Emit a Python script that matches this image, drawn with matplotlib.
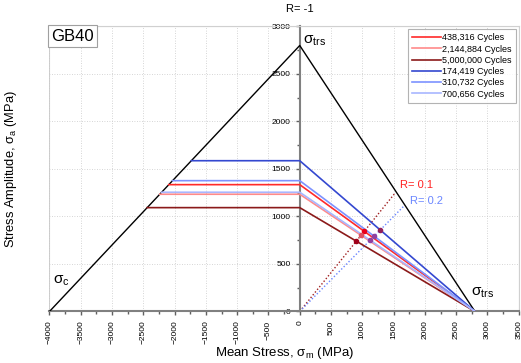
import numpy as np
from matplotlib import pyplot as plt
from matplotlib.patches import Rectangle

plt.rcParams['font.family'] = ['Liberation Sans', 'DejaVu Sans']
plt.rcParams['mathtext.fontset'] = 'custom'
plt.rcParams['mathtext.rm'] = 'Liberation Sans'
plt.rcParams['mathtext.it'] = 'Liberation Sans'

# material limits (MPa)
sigma_trs = 2800
sigma_c = -4000

# fatigue lines: amplitude at zero mean stress
labels = ['438,316 Cycles', '2,144,884 Cycles', '5,000,000 Cycles',
          '174,419 Cycles', '310,732 Cycles', '700,656 Cycles']
amp = [1335, 1234, 1093, 1587, 1377, 1255]
line_R = [0.1, 0.1, 0.1, 0.2, 0.2, 0.2]

# load ratio lines
R_values = [0.1, 0.2]
R_xend = [1520, 1660]

colors = ['#ff2a2a', '#ff8a8a', '#8b1a1a', '#3448d0', '#7d92ff', '#a8b6ff']
mcolors = ['#e8001a', '#e05060', '#a0001a', '#90205a', '#9040a0', '#9040a0']
R_colors = ['#a02020', '#6a86ff']

fig = plt.figure(figsize=(5.21, 3.63), dpi=100)
ax = fig.add_axes([0.095, 0.142, 0.9006, 0.785])

# envelope triangle
ax.plot([sigma_c, 0, sigma_trs], [0, sigma_trs, 0], color='black', lw=1.0, zorder=3)

for a, lab, c in zip(amp, labels, colors):
    x_left = a / sigma_trs * (-sigma_c) + sigma_c
    ax.plot([x_left, 0, sigma_trs], [a, a, 0], color=c, lw=1.2, label=lab, zorder=4)

for R, xe, c in zip(R_values, R_xend, R_colors):
    k = (1 - R) / (1 + R)
    ax.plot([0, xe], [0, k * xe], color=c, lw=1.0, ls=(0, (1, 1.5)), zorder=2)

# intersections of R lines with the fatigue lines
for a, R, mc in zip(amp, line_R, mcolors):
    k = (1 - R) / (1 + R)
    xi = a / (k + a / sigma_trs)
    ax.plot(xi, k * xi, 'o', ms=3, color=mc, zorder=5)

ax.set_xlim(-4000, 3500)
ax.set_ylim(0, 3000)
ax.set_xticks(np.arange(-4000, 3501, 500))
ax.set_yticks(np.arange(0, 3001, 500))
ax.set_xticks(np.arange(-4000, 3501, 250), minor=True)
ax.set_yticks(np.arange(0, 3001, 250), minor=True)
ax.tick_params(axis='x', labelsize=6, labelrotation=90, direction='out', length=3, width=1, color='#606060')
ax.tick_params(axis='y', labelsize=6, direction='out', length=3, width=1, color='#606060')
ax.tick_params(which='minor', length=2, width=1, color='#606060')
ax.grid(True, ls=(0, (1, 2)), color='#c8c8c8', lw=0.6)

ax.spines['left'].set_position(('data', 0))
ax.spines['bottom'].set_position(('data', 0))
for s in ['left', 'bottom']:
    ax.spines[s].set_color('#808080')
    ax.spines[s].set_linewidth(1.5)
for s in ['top', 'right']:
    ax.spines[s].set_color('#d0d0d0')
    ax.spines[s].set_linewidth(0.8)
ax.add_patch(Rectangle((0, 0), 1, 1, transform=ax.transAxes, fill=False,
                       ec='#d0d0d0', lw=0.8, zorder=0))

ax.set_xlabel(r'Mean Stress, $\mathregular{\sigma_m}$ (MPa)', fontsize=9.5)
ax.set_ylabel(r'Stress Amplitude, $\mathregular{\sigma_a}$ (MPa)', fontsize=9.3)
ax.yaxis.set_label_coords(-0.064, 0.5)
ax.xaxis.set_label_coords(0.5, -0.118)

ax.text(0, 1.045, 'R= -1', transform=ax.get_xaxis_transform(), ha='center', va='bottom', fontsize=8)
ax.text(60, 2850, r'$\mathregular{\sigma_{trs}}$', fontsize=11, ha='left', va='center')
ax.text(2740, 200, r'$\mathregular{\sigma_{trs}}$', fontsize=11, ha='left', va='center')
ax.text(-3940, 320, r'$\mathregular{\sigma_c}$', fontsize=11, ha='left', va='center')
ax.text(1600, 1335, 'R= 0.1', color='#ff2020', fontsize=8, ha='left', va='center')
ax.text(1760, 1160, 'R= 0.2', color='#6a86ff', fontsize=8, ha='left', va='center')

ax.text(0.004, 0.992, 'GB40', transform=ax.transAxes, fontsize=12, ha='left', va='top',
        bbox=dict(boxstyle='square,pad=0.2', fc='white', ec='#a0a0a0', lw=0.8))

leg = ax.legend(loc='upper right', fontsize=6.5, frameon=True, fancybox=False,
                edgecolor='#a0a0a0', borderaxespad=0.3, handlelength=3.2,
                labelspacing=0.25, borderpad=0.45, handletextpad=0.2)
leg.get_frame().set_linewidth(0.8)

plt.savefig('out.png', dpi=100)
